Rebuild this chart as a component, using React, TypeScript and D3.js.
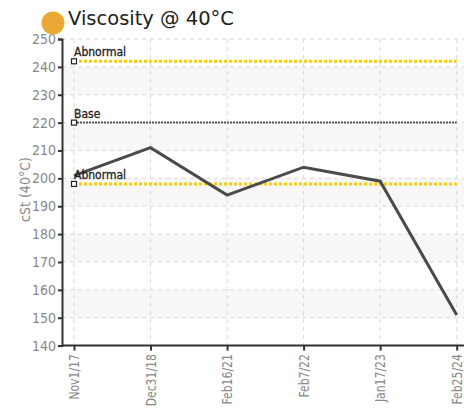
import { useRef, useEffect } from "react";
import * as d3 from "d3";

const dates = ["Nov1/17", "Dec31/18", "Feb16/21", "Feb7/22", "Jan17/23", "Feb25/24"];
const viscosity = [201, 211, 194, 204, 199, 151];
const yTicks = [140, 150, 160, 170, 180, 190, 200, 210, 220, 230, 240, 250];
const limitNames = ["Abnormal", "Base", "Abnormal"];
const limitValues = [242, 220, 198];
const limitColors = ["#FFCC00", "#555555", "#FFCC00"];

const condensed = "'Liberation Sans Narrow', 'DejaVu Sans Condensed', 'Roboto', sans-serif";

const App = () => {
  const svgRef = useRef<SVGSVGElement>(null);

  useEffect(() => {
    const w = 464;
    const h = 409;
    const left = 62;
    const top = 39;
    const bottom = 345.6;
    const right = 464;

    const svg = d3.select(svgRef.current).attr("width", w).attr("height", h);
    svg.selectAll("*").remove();

    const x = d3.scalePoint<string>().domain(dates).range([74, 456.7]);
    const y = d3.scaleLinear().domain([140, 250]).range([bottom, top]);

    // alternating bands
    svg
      .append("g")
      .selectAll("rect")
      .data(yTicks.filter((t) => t % 20 === 10 && t < 250))
      .join("rect")
      .attr("x", left)
      .attr("width", right - left)
      .attr("y", (d) => y(d + 10))
      .attr("height", (d) => y(d) - y(d + 10))
      .attr("fill", "#f7f7f7");

    // grid
    svg
      .append("g")
      .selectAll("line")
      .data(yTicks.slice(1))
      .join("line")
      .attr("x1", left)
      .attr("x2", right)
      .attr("y1", (d) => y(d))
      .attr("y2", (d) => y(d))
      .attr("stroke", "#d8d8d8")
      .attr("stroke-dasharray", "4,4");
    svg
      .append("g")
      .selectAll("line")
      .data(dates)
      .join("line")
      .attr("x1", (d) => x(d)!)
      .attr("x2", (d) => x(d)!)
      .attr("y1", top)
      .attr("y2", bottom)
      .attr("stroke", "#d8d8d8")
      .attr("stroke-dasharray", "4,4");

    // limit lines
    limitValues.forEach((v, i) => {
      svg
        .append("line")
        .attr("x1", x(dates[0])!)
        .attr("x2", x(dates[dates.length - 1])!)
        .attr("y1", y(v))
        .attr("y2", y(v))
        .attr("stroke", limitColors[i])
        .attr("stroke-width", i === 1 ? 2 : 3)
        .attr("stroke-dasharray", i === 1 ? "2,1" : "3,2");
    });

    // data line
    const line = d3
      .line<number>()
      .x((d, i) => x(dates[i])!)
      .y((d) => y(d));
    svg
      .append("path")
      .datum(viscosity)
      .attr("d", line)
      .attr("fill", "none")
      .attr("stroke", "#4a4a4a")
      .attr("stroke-width", 3);

    // limit markers + labels
    limitValues.forEach((v, i) => {
      svg
        .append("rect")
        .attr("x", x(dates[0])! - 2.5)
        .attr("y", y(v) - 2.5)
        .attr("width", 5)
        .attr("height", 5)
        .attr("fill", "#fff")
        .attr("stroke", "#222")
        .attr("stroke-width", 1.2);
      svg
        .append("text")
        .attr("x", x(dates[0])!)
        .attr("y", y(v) - 5)
        .attr("font-family", condensed)
        .attr("font-size", 12)
        .attr("fill", "#222")
        .attr("stroke", "#222")
        .attr("stroke-width", 0.3)
        .text(limitNames[i]);
    });

    // y axis
    const yAxis = d3.axisLeft(y).tickValues(yTicks).tickSize(4).tickPadding(2);
    const yg = svg
      .append("g")
      .attr("transform", `translate(${left},0)`)
      .call(yAxis);
    yg.select(".domain").attr("stroke", "#333").attr("stroke-width", 2);
    yg.selectAll(".tick line").attr("stroke", "#333").attr("stroke-width", 2);
    yg.selectAll(".tick text")
      .attr("font-family", condensed)
      .attr("font-size", 14)
      .attr("fill", "#888");

    // x axis
    const xAxis = d3.axisBottom(x).tickSize(5).tickSizeOuter(0);
    const xg = svg
      .append("g")
      .attr("transform", `translate(0,${bottom})`)
      .call(xAxis);
    xg.select(".domain").attr("d", `M${left},0H${right}`).attr("stroke", "#333").attr("stroke-width", 2);
    xg.selectAll(".tick line").attr("stroke", "#333").attr("stroke-width", 2);
    xg.selectAll(".tick text")
      .attr("font-family", condensed)
      .attr("font-size", 14)
      .attr("fill", "#888")
      .attr("transform", "rotate(-90) scale(0.86,1)")
      .attr("text-anchor", "end")
      .attr("x", -10)
      .attr("y", 0)
      .attr("dy", "0.33em");

    // y label
    svg
      .append("text")
      .attr("transform", `translate(30,189.5) rotate(-90)`)
      .attr("text-anchor", "middle")
      .attr("font-family", condensed)
      .attr("font-size", 14)
      .attr("fill", "#888")
      .text("cSt (40°C)");

    // title
    svg.append("circle").attr("cx", 53).attr("cy", 23).attr("r", 11.5).attr("fill", "#EAA935");
    svg
      .append("text")
      .attr("x", 68)
      .attr("y", 24.5)
      .attr("font-family", "'DejaVu Sans', sans-serif")
      .attr("font-size", 19.5)
      .attr("fill", "#222")
      .text("Viscosity @ 40°C");
  }, []);

  return (
    <svg
      ref={svgRef}
      style={{ position: "absolute", left: 0, top: 0 }}
    ></svg>
  );
};

export default App;
